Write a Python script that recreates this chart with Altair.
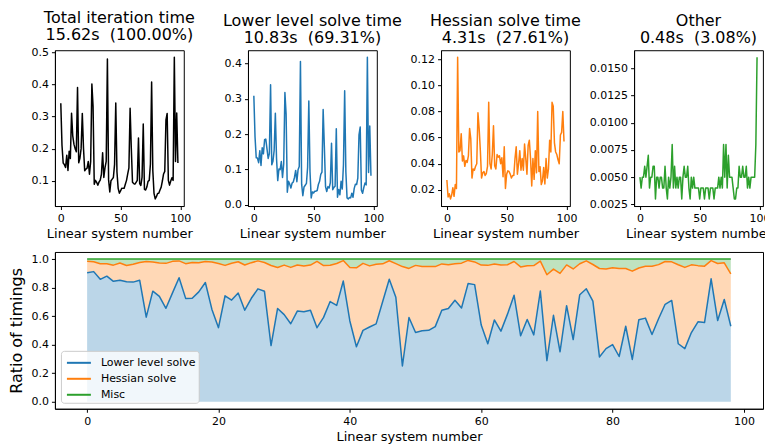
import altair as alt
import pandas as pd

# ---- data (seconds per linear system) ----
lower = [.309, .192, .133, .132, .119, .153, .111, .161, .144, .184,
         .186, .158, .131, .145, .340, .113, .123, .154, .259, .130,
         .068, .101, .099, .122, .077, .116, .318, .257, .035, .066,
         .058, .047, .061, .064, .077, .097, .065, .099, .108, .406,
         .058, .025, .050, .055, .060, .106, .294, .093, .019, .036,
         .033, .038, .038, .040, .057, .066, .086, .092, .270, .165,
         .051, .037, .051, .047, .062, .174, .042, .049, .052, .215,
         .021, .043, .028, .066, .044, .114, .323, .093, .019, .016,
         .020, .019, .032, .021, .046, .058, .057, .075, .198, .220,
         .041, .032, .048, .061, .056, .418, .091, .223, .082]

hessian = [.0275, .0145, .017, .013, .016, .0216, .015, .024, .021, .1215,
           .049, .05, .063, .042, .046, .038, .0425, .041, .046, .067,
           .059, .029, .036, .035, .038, .04, .079, .067, .05, .029,
           .033, .034, .031, .0325, .038, .087, .04, .036, .047, .069,
           .0385, .036, .047, .045, .046, .04, .0445, .03, .053, .021,
           .032, .0345, .034, .032, .029, .031, .031, .044, .053, .032,
           .04, .05, .035, .044, .035, .055, .044, .032, .054, .058,
           .044, .023, .044, .028, .05, .033, .08, .034, .0376, .024,
           .027, .037, .0245, .044, .029, .036, .058, .049, .087, .084,
           .056, .049, .047, .043, .04, .062, .064, .08, .057]

other = [.005, .004, .005, .005, .006, .005, .006, .007, .004, .005,
         .005, .006, .006, .003, .005, .005, .004, .005, .005, .004,
         .004, .006, .004, .003, .005, .004, .005, .008, .004, .006,
         .004, .005, .004, .005, .005, .003, .005, .006, .005, .005,
         .006, .004, .003, .005, .004, .005, .004, .004, .004, .004,
         .003, .004, .004, .004, .003, .004, .004, .004, .003, .004,
         .004, .004, .003, .004, .004, .004, .005, .004, .005, .004,
         .008, .005, .008, .004, .007, .005, .005, .005, .004, .003,
         .003, .004, .004, .006, .005, .005, .006, .005, .005, .006,
         .004, .005, .004, .005, .005, .005, .005, .008, .016]

panel_titles = [
    ["Total iteration time", "15.62s\u00a0 (100.00%)"],
    ["Lower level solve time", "10.83s\u00a0 (69.31%)"],
    ["Hessian solve time", "4.31s\u00a0 (27.61%)"],
    ["Other", "0.48s\u00a0 (3.08%)"],
]
series_names = ["Lower level solve", "Hessian solve", "Misc"]
colors = ["#1f77b4", "#ff7f0e", "#2ca02c"]

# ---- derived table ----
idx = list(range(len(lower)))
total = [l + h + o for l, h, o in zip(lower, hessian, other)]
ratio_lower = [l / t for l, t in zip(lower, total)]
ratio_lh = [(l + h) / t for l, h, t in zip(lower, hessian, total)]

df = pd.DataFrame({
    "i": idx, "total": total, "lower": lower, "hessian": hessian, "other": other,
    "rl": ratio_lower, "rlh": ratio_lh, "zero": 0.0, "one": 1.0,
})

xdom = [-4.9, 102.9]
LEFT_EXT = 24
LEFT_TITLE = "Ratio of timings"
PW, PH = 129, 156      # top panels
BW, BH = 709, 157      # bottom panel
GAP = 64.3


def top_panel(col, color, title, ticks, fmt, first=False):
    lo, hi = min(df[col]), max(df[col])
    m = 0.05 * (hi - lo)
    if first:
        yax = alt.Axis(values=ticks, format=fmt, title=LEFT_TITLE, titleColor="transparent",
                       titleFontSize=16, titlePadding=6, minExtent=LEFT_EXT, maxExtent=LEFT_EXT)
    else:
        yax = alt.Axis(values=ticks, format=fmt, title=None)
    return alt.Chart(df).mark_line(color=color, strokeWidth=1.5, strokeJoin="round", clip=True).encode(
        x=alt.X("i:Q", scale=alt.Scale(domain=xdom, nice=False, zero=False),
                axis=alt.Axis(values=[0, 50, 100], title="Linear system number")),
        y=alt.Y(f"{col}:Q", scale=alt.Scale(domain=[lo - m, hi + m], nice=False, zero=False), axis=yax),
    ).properties(width=PW, height=PH, title=alt.TitleParams(text=title, frame="group"))


p1 = top_panel("total", "#000000", panel_titles[0], [0.1, 0.2, 0.3, 0.4, 0.5], ".1f", first=True)
p2 = top_panel("lower", colors[0], panel_titles[1], [0.0, 0.1, 0.2, 0.3, 0.4], ".1f")
p3 = top_panel("hessian", colors[1], panel_titles[2], [0.02, 0.04, 0.06, 0.08, 0.10, 0.12], ".2f")
p4 = top_panel("other", colors[2], panel_titles[3], [0.0025, 0.005, 0.0075, 0.01, 0.0125, 0.015], ".4f")

top = alt.hconcat(p1, p2, p3, p4, spacing=GAP, bounds="flush")

# ---- bottom stacked ratio chart ----
yscale = alt.Scale(domain=[-0.05, 1.05], nice=False, zero=False)
xscale = alt.Scale(domain=xdom, nice=False, zero=False)
x_axis = alt.Axis(values=[0, 20, 40, 60, 80, 100], title="Linear system number")
y_axis = alt.Axis(values=[0.0, 0.2, 0.4, 0.6, 0.8, 1.0], format=".1f", title=LEFT_TITLE,
                  titleFontSize=16, titlePadding=6, minExtent=LEFT_EXT, maxExtent=LEFT_EXT)


def xb():
    return alt.X("i:Q", scale=xscale, axis=x_axis)


def yb(field):
    return alt.Y(field, scale=yscale, axis=y_axis)


area_l = alt.Chart(df).mark_area(color=colors[0], opacity=0.3).encode(x=xb(), y=yb("rl:Q"), y2="zero:Q")
area_h = alt.Chart(df).mark_area(color=colors[1], opacity=0.3).encode(x=xb(), y=yb("rlh:Q"), y2="rl:Q")
area_m = alt.Chart(df).mark_area(color=colors[2], opacity=0.3).encode(x=xb(), y=yb("one:Q"), y2="rlh:Q")

long = pd.concat([
    pd.DataFrame({"i": idx, "v": ratio_lower, "s": series_names[0]}),
    pd.DataFrame({"i": idx, "v": ratio_lh, "s": series_names[1]}),
    pd.DataFrame({"i": idx, "v": [1.0] * len(idx), "s": series_names[2]}),
])

lines = alt.Chart(long).mark_line(strokeWidth=1.5, strokeJoin="round").encode(
    x=xb(), y=yb("v:Q"),
    color=alt.Color("s:N", scale=alt.Scale(domain=series_names, range=colors),
                    legend=alt.Legend(title=None, orient="bottom-left", offset=6,
                                      symbolType="M-1.5,0H1.5", symbolSize=256, symbolStrokeWidth=2,
                                      symbolOffset=6, labelFontSize=11, labelOffset=13,
                                      fillColor="rgba(255,255,255,0.8)", strokeColor="#cccccc",
                                      cornerRadius=3, padding=3, rowPadding=2)),
)

bottom = alt.layer(area_l, area_h, area_m, lines).properties(width=BW, height=BH)

chart = alt.vconcat(top, bottom, spacing=10, center=False).resolve_scale(color="independent").resolve_legend(
    color="independent"
).properties(
    padding={"left": 0, "top": 0, "right": -8, "bottom": 0}
).configure(font="DejaVu Sans").configure_view(
    stroke="black", strokeWidth=1
).configure_axis(
    grid=False, domainColor="black", tickColor="black", tickSize=3.5, labelFontSize=11,
    labelColor="black", titleColor="black", titleFontSize=13, titleFontWeight="normal",
    labelPadding=3, titlePadding=4, labelFont="DejaVu Sans", titleFont="DejaVu Sans",
).configure_title(
    font="DejaVu Sans", fontSize=16, fontWeight="normal", color="black", offset=4,
    lineHeight=17, anchor="middle"
).configure_legend(labelFont="DejaVu Sans", labelColor="black")

chart.save("out.html", embed_options={"renderer": "svg", "actions": False})
